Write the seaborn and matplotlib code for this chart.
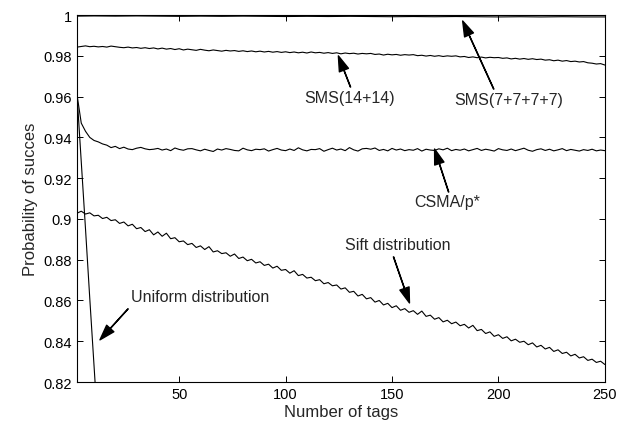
import numpy as np
import pandas as pd
import matplotlib
matplotlib.use("Agg")
import matplotlib.pyplot as plt
import seaborn as sns

# number of tags (every 2nd value)
tags = list(range(2, 251, 2))
tags_sms7 = [2] + list(range(10, 251, 10))

sms7 = [0.9995, 0.9996, 0.9995, 0.9996, 0.9995, 0.9994, 0.9995, 0.9994, 0.9995,
        0.9994, 0.9993, 0.9994, 0.9993, 0.9994, 0.9993, 0.9992, 0.9993, 0.9992,
        0.9993, 0.9992, 0.9991, 0.9992, 0.9991, 0.9992, 0.9991, 0.9991]

sms14 = [0.9843, 0.9846, 0.9849, 0.9845, 0.9847, 0.9844, 0.9846, 0.9843, 0.9848, 0.9845,
         0.9842, 0.9840, 0.9843, 0.9839, 0.9841, 0.9837, 0.9840, 0.9836, 0.9839, 0.9834,
         0.9838, 0.9833, 0.9836, 0.9831, 0.9835, 0.9829, 0.9833, 0.9830, 0.9827, 0.9832,
         0.9828, 0.9825, 0.9829, 0.9826, 0.9823, 0.9827, 0.9824, 0.9826, 0.9822, 0.9825,
         0.9821, 0.9824, 0.9820, 0.9823, 0.9819, 0.9822, 0.9818, 0.9821, 0.9817, 0.9820,
         0.9816, 0.9819, 0.9815, 0.9818, 0.9814, 0.9819, 0.9815, 0.9817, 0.9813, 0.9816,
         0.9812, 0.9815, 0.9810, 0.9814, 0.9811, 0.9813, 0.9809, 0.9812, 0.9810, 0.9812,
         0.9807, 0.9809, 0.9804, 0.9808, 0.9805, 0.9807, 0.9803, 0.9806, 0.9804, 0.9806,
         0.9801, 0.9803, 0.9799, 0.9802, 0.9798, 0.9801, 0.9797, 0.9800, 0.9798, 0.9800,
         0.9795, 0.9797, 0.9792, 0.9795, 0.9791, 0.9794, 0.9790, 0.9793, 0.9791, 0.9792,
         0.9788, 0.9790, 0.9785, 0.9788, 0.9784, 0.9787, 0.9783, 0.9786, 0.9782, 0.9784,
         0.9779, 0.9781, 0.9776, 0.9779, 0.9774, 0.9777, 0.9772, 0.9774, 0.9770, 0.9772,
         0.9766, 0.9764, 0.9760, 0.9762, 0.9755]

csma = [0.9610, 0.9470, 0.9430, 0.9400, 0.9385, 0.9378, 0.9368, 0.9362, 0.9350, 0.9356,
        0.9345, 0.9352, 0.9343, 0.9340, 0.9347, 0.9351, 0.9344, 0.9340, 0.9342, 0.9346,
        0.9338, 0.9343, 0.9335, 0.9348, 0.9341, 0.9337, 0.9344, 0.9345, 0.9339, 0.9334,
        0.9342, 0.9336, 0.9331, 0.9343, 0.9338, 0.9345, 0.9341, 0.9336, 0.9334, 0.9347,
        0.9339, 0.9335, 0.9342, 0.9340, 0.9344, 0.9333, 0.9340, 0.9346, 0.9338, 0.9335,
        0.9343, 0.9336, 0.9349, 0.9339, 0.9334, 0.9341, 0.9340, 0.9345, 0.9332, 0.9340,
        0.9347, 0.9338, 0.9343, 0.9335, 0.9350, 0.9339, 0.9333, 0.9344, 0.9346, 0.9342,
        0.9348, 0.9336, 0.9341, 0.9334, 0.9346, 0.9338, 0.9343, 0.9335, 0.9340, 0.9337,
        0.9345, 0.9333, 0.9342, 0.9338, 0.9336, 0.9344, 0.9339, 0.9347, 0.9335, 0.9341,
        0.9337, 0.9343, 0.9334, 0.9340, 0.9346, 0.9336, 0.9342, 0.9338, 0.9333, 0.9345,
        0.9339, 0.9336, 0.9343, 0.9335, 0.9341, 0.9347, 0.9337, 0.9332, 0.9340, 0.9344,
        0.9336, 0.9342, 0.9334, 0.9339, 0.9345, 0.9335, 0.9341, 0.9337, 0.9333, 0.9340,
        0.9336, 0.9342, 0.9334, 0.9338, 0.9335]

sift = [0.9028, 0.9038, 0.9024, 0.9030, 0.9015, 0.9018, 0.9002, 0.9008, 0.8992, 0.8996,
        0.8978, 0.8985, 0.8966, 0.8974, 0.8952, 0.8958, 0.8938, 0.8947, 0.8922, 0.8936,
        0.8915, 0.8930, 0.8903, 0.8908, 0.8888, 0.8892, 0.8874, 0.8880, 0.8860, 0.8868,
        0.8850, 0.8864, 0.8838, 0.8844, 0.8830, 0.8834, 0.8817, 0.8828, 0.8806, 0.8813,
        0.8795, 0.8802, 0.8784, 0.8790, 0.8772, 0.8778, 0.8759, 0.8768, 0.8748, 0.8752,
        0.8734, 0.8746, 0.8722, 0.8728, 0.8710, 0.8714, 0.8697, 0.8702, 0.8682, 0.8688,
        0.8672, 0.8676, 0.8656, 0.8662, 0.8640, 0.8645, 0.8622, 0.8630, 0.8608, 0.8614,
        0.8592, 0.8600, 0.8578, 0.8586, 0.8565, 0.8574, 0.8552, 0.8560, 0.8542, 0.8550,
        0.8532, 0.8548, 0.8522, 0.8528, 0.8508, 0.8516, 0.8495, 0.8503, 0.8486, 0.8494,
        0.8476, 0.8483, 0.8465, 0.8478, 0.8452, 0.8458, 0.8438, 0.8446, 0.8424, 0.8432,
        0.8414, 0.8422, 0.8402, 0.8410, 0.8395, 0.8400, 0.8383, 0.8392, 0.8372, 0.8380,
        0.8362, 0.8370, 0.8350, 0.8358, 0.8340, 0.8346, 0.8328, 0.8336, 0.8318, 0.8324,
        0.8306, 0.8312, 0.8296, 0.8302, 0.8286]

tags_uniform = [2, 4, 6, 8, 10, 12]
uniform = [0.961, 0.928, 0.895, 0.861, 0.828, 0.795]

yticks = [0.82, 0.84, 0.86, 0.88, 0.9, 0.92, 0.94, 0.96, 0.98, 1]
ytick_labels = ["0.82", "0.84", "0.86", "0.88", "0.9", "0.92", "0.94", "0.96", "0.98", "1"]
xticks = [50, 100, 150, 200, 250]

sns.set_style("ticks")
plt.rcParams['font.family'] = ['Liberation Sans', 'DejaVu Sans']

fig = plt.figure(figsize=(6.21, 4.35), dpi=100)
ax = fig.add_axes([0.124, 0.1195, 0.850, 0.8435])

lw = 0.8
sns.lineplot(x=tags_sms7, y=sms7, ax=ax, color='black', lw=lw)
sns.lineplot(x=tags, y=sms14, ax=ax, color='black', lw=lw)
sns.lineplot(x=tags, y=csma, ax=ax, color='black', lw=lw)
sns.lineplot(x=tags, y=sift, ax=ax, color='black', lw=lw)
sns.lineplot(x=tags_uniform, y=uniform, ax=ax, color='black', lw=lw)

ax.set_xlim(2, 250)
ax.set_ylim(0.82, 1)
ax.set_xticks(xticks)
ax.set_yticks(yticks)
ax.set_yticklabels(ytick_labels)
ax.tick_params(direction='in', length=4.5, width=0.7, color='black',
               top=True, right=True, labelsize=10.5, labelcolor='black')
for s in ax.spines.values():
    s.set_visible(True)
    s.set_linewidth(0.8)
    s.set_color('black')
ax.set_xlabel("Number of tags", fontsize=12, labelpad=2)
ax.set_ylabel("Probability of succes", fontsize=12, labelpad=4)

arrow = dict(facecolor='black', edgecolor='black', width=0.2, headwidth=7,
             headlength=11, shrink=0)
# label, text position, arrow tail, arrow tip
notes = [
    ("SMS(14+14)", (130, 0.9598), (130.5, 0.9647), (124.8, 0.9800)),
    ("SMS(7+7+7+7)", (204.8, 0.9588), (197.8, 0.9637), (183.2, 0.9971)),
    ("CSMA/p*", (176, 0.9088), (176.6, 0.9132), (170, 0.9343)),
    ("Sift distribution", (152.6, 0.8873), (150.7, 0.8814), (158.2, 0.8588)),
    ("Uniform distribution", (59.9, 0.8618), (26, 0.8559), (12.8, 0.8407)),
]
for txt, xy_text, xy_tail, xy_tip in notes:
    ax.annotate("", xy=xy_tip, xytext=xy_tail, arrowprops=arrow)
    ax.text(xy_text[0], xy_text[1], txt, ha='center', va='center', fontsize=11.5)

fig.savefig("out.png", dpi=100)
